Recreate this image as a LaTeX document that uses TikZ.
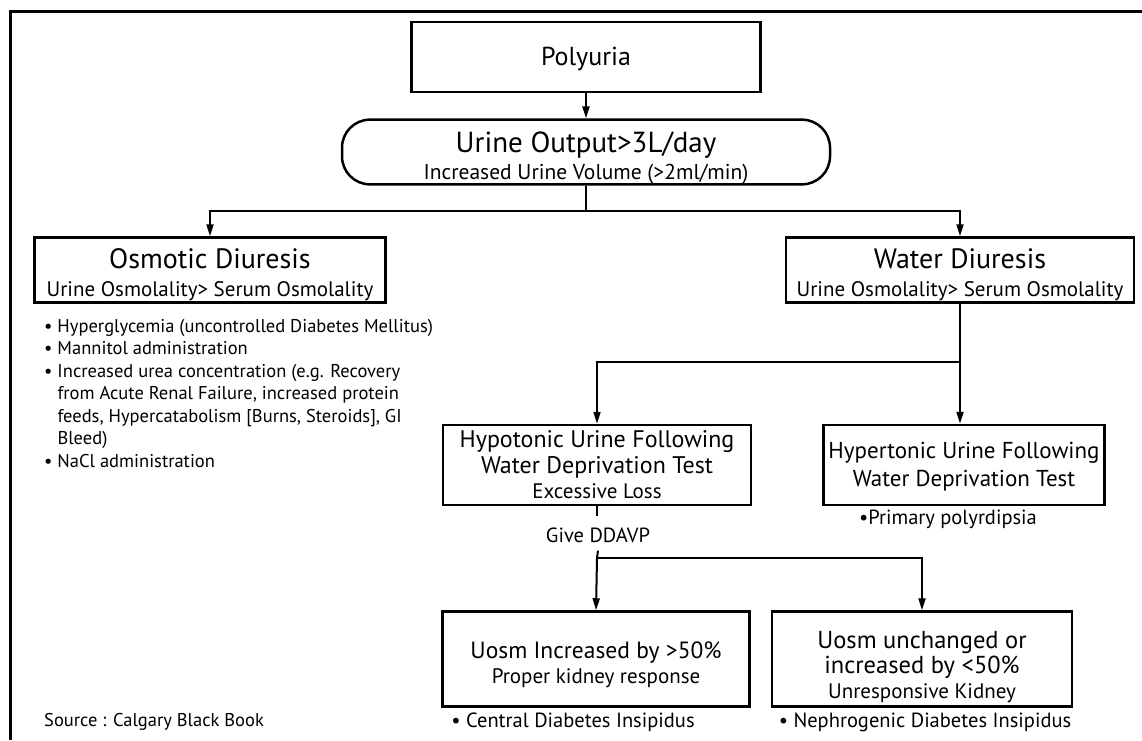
\documentclass[tikz,border=0pt]{standalone}
\usepackage{fontspec}
\setmainfont{PT Sans}
\usetikzlibrary{arrows.meta}

% font size and baseline skip, both in pt
\newcommand\setfs[2]{\fontsize{#1}{#2}\selectfont}
% extra room above the first line of a box
\newcommand\topgap[1]{\rule{0pt}{#1}}

\tikzset{
  flowbox/.style={draw, line width=2.5pt, inner sep=0pt, align=center},
  flowarrow/.style={line width=2pt, -{Triangle[length=12pt,width=7pt]}},
  flowline/.style={line width=2pt},
  plain/.style={inner sep=0pt, align=left}
}

\begin{document}
\begin{tikzpicture}[x=1pt, y=-1pt]
\useasboundingbox (0,0) rectangle (1142,740);
% outer frame
\draw[line width=3pt] (1142,11) -| (10,740);

% boxes
\node[flowbox, font=\setfs{26}{30}, minimum width=349pt, minimum height=70pt] (polyuria) at (586,57) {\topgap{22pt}Polyuria};
\node[flowbox, font=\setfs{29}{27}, rounded corners=28pt, minimum width=488pt, minimum height=62pt] (output) at (586,152)
  {\topgap{33pt}Urine Output>3L/day\\ \setfs{21.5}{27}Increased Urine Volume (>2ml/min)};
\node[flowbox, font=\setfs{28}{28}, minimum width=351pt, minimum height=65pt] (osmotic) at (210,270)
  {\topgap{30pt}Osmotic Diuresis\\ \setfs{21}{28}Urine Osmolality> Serum Osmolality};
\node[flowbox, font=\setfs{28}{28}, minimum width=348pt, minimum height=65pt] (water) at (960,270)
  {\topgap{30pt}Water Diuresis\\ \setfs{21}{28}Urine Osmolality> Serum Osmolality};
\node[flowbox, font=\setfs{24}{25.5}, minimum width=308pt, minimum height=80pt] (hypotonic) at (597,465)
  {Hypotonic Urine Following\\Water Deprivation Test\\ \setfs{21}{25.5}Excessive Loss};
\node[flowbox, font=\setfs{23}{28}, minimum width=281pt, minimum height=80pt] (hypertonic) at (964,465)
  {\topgap{20pt}Hypertonic Urine Following\\Water Deprivation Test};
\node[flowbox, font=\setfs{23.5}{25}, minimum width=307pt, minimum height=95pt] (increased) at (596,659)
  {\topgap{28pt}Uosm Increased by >50\%\\ \setfs{21}{25}Proper kidney response};
\node[flowbox, font=\setfs{24.5}{25}, minimum width=300pt, minimum height=95pt] (unchanged) at (922,659)
  {\topgap{33pt}Uosm unchanged or\\increased by <50\%\\ \setfs{21}{25}Unresponsive Kidney};

% texts
\node[plain, font=\setfs{18.5}{22.5}, anchor=north west] (causes) at (44,319) {%
  \textbullet\ Hyperglycemia (uncontrolled Diabetes Mellitus)\\
  \textbullet\ Mannitol administration\\
  \textbullet\ Increased urea concentration (e.g. Recovery\\
  \phantom{\textbullet\ }from Acute Renal Failure, increased protein\\
  \phantom{\textbullet\ }feeds, Hypercatabolism [Burns, Steroids], GI\\
  \phantom{\textbullet\ }Bleed)\\
  \textbullet\ NaCl administration};
\node[plain, font=\setfs{20.5}{24}] (primary) at (948,519) {\textbullet Primary polyrdipsia};
\node[plain, font=\setfs{20.5}{24}] (ddavp) at (598,535) {Give DDAVP};
\node[plain, font=\setfs{20.5}{24}] (central) at (573,722) {\textbullet\ Central Diabetes Insipidus};
\node[plain, font=\setfs{20.5}{24}] (nephro) at (925,722) {\textbullet\ Nephrogenic Diabetes Insipidus};
\node[plain, font=\setfs{18.5}{24}, anchor=west] (source) at (44,722) {Source : Calgary Black Book};

% connectors
\coordinate (split1) at (586,211);
\coordinate (split2) at (960,362);
\coordinate (split3) at (597,558);
\draw[flowarrow] (polyuria) -- (output);
\draw[flowline] (output) -- (split1);
\draw[flowarrow] (split1) -| (osmotic.north);
\draw[flowarrow] (split1) -| (water.north);
\draw[flowarrow] (water.south) -- (water.south |- hypertonic.north);
\draw[flowarrow] (split2) -| (hypotonic.north);
\draw[flowline] (hypotonic.south) -- ++(0,10);
\draw[flowline] (ddavp.south) ++(0,8) -- (split3);
\draw[flowarrow] (split3) -- (increased.north);
\draw[flowarrow] (split3) -| (unchanged.north);
\end{tikzpicture}
\end{document}
